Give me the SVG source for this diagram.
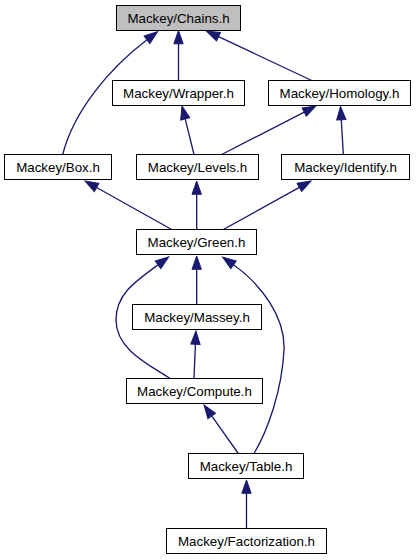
<svg xmlns="http://www.w3.org/2000/svg" width="417" height="560" viewBox="0 0 417 560">
<style>
.n rect{fill:#ffffff;stroke:#000000;stroke-width:1}
#chains rect{fill:#bfbfbf}
.n text{font-family:"Liberation Sans",Arial,Helvetica,sans-serif;font-size:13.33px;text-anchor:middle;fill:#000000}
.e path{fill:none;stroke:#191970;stroke-width:1.33;marker-end:url(#ah)}
</style>
<defs>
<marker id="ah" markerUnits="userSpaceOnUse" markerWidth="16" markerHeight="12" refX="0" refY="0" viewBox="0 -6 16 12" orient="auto" overflow="visible">
<path d="M0,-4.67 L13.3,0 L0,4.67 Z" fill="#191970" stroke="#191970" stroke-width="1"/>
</marker>
</defs>
<rect width="417" height="560" fill="#ffffff"/>
<g id="edges" class="e">
<path d="M62.7,154.5 C74,110 110,68 147,39.8"/>
<path d="M178.5,80.5 L178.5,43.8"/>
<path d="M311.7,80.5 L218.5,36.7"/>
<path d="M194,154.5 L185.2,118.9"/>
<path d="M221.7,154.5 L304.2,112.1"/>
<path d="M343.3,154.5 L341.3,119.8"/>
<path d="M171.7,229.5 L96.6,187.5"/>
<path d="M196.7,229.5 L196.7,194.3"/>
<path d="M223.3,229.5 L299.4,187.4"/>
<path d="M196.7,304.5 L196.7,269.3"/>
<path d="M170,378.5 C150,365 116,350 116,320 C116,295 133,283 158,264.8"/>
<path d="M194,378.5 L195.4,344.3"/>
<path d="M254,453.5 C268,430 282,390 284,350 C285.5,318 262,285 233.5,264.8"/>
<path d="M238.3,453.5 L211.7,415.9"/>
<path d="M246.5,528.5 L246.5,493.3"/>
</g>
<g id="chains" class="n"><rect x="116.5" y="5.5" width="124" height="25"/><text x="178.5" y="22.7">Mackey/Chains.h</text></g>
<g id="wrapper" class="n"><rect x="112.5" y="80.5" width="132" height="25"/><text x="178.5" y="97.7">Mackey/Wrapper.h</text></g>
<g id="homology" class="n"><rect x="268.5" y="80.5" width="142" height="25"/><text x="339.5" y="97.7">Mackey/Homology.h</text></g>
<g id="box" class="n"><rect x="4.5" y="154.5" width="107" height="25"/><text x="58" y="171.7">Mackey/Box.h</text></g>
<g id="levels" class="n"><rect x="136.5" y="154.5" width="122" height="25"/><text x="197.5" y="171.7">Mackey/Levels.h</text></g>
<g id="identify" class="n"><rect x="281.5" y="154.5" width="128" height="25"/><text x="345.5" y="171.7">Mackey/Identify.h</text></g>
<g id="green" class="n"><rect x="136.5" y="229.5" width="120" height="25"/><text x="196.5" y="246.7">Mackey/Green.h</text></g>
<g id="massey" class="n"><rect x="132.5" y="304.5" width="129" height="25"/><text x="197" y="321.7">Mackey/Massey.h</text></g>
<g id="compute" class="n"><rect x="126.5" y="378.5" width="136" height="25"/><text x="194.5" y="395.7">Mackey/Compute.h</text></g>
<g id="table" class="n"><rect x="188.5" y="453.5" width="115" height="25"/><text x="246" y="470.7">Mackey/Table.h</text></g>
<g id="factorization" class="n"><rect x="166.5" y="528.5" width="160" height="25"/><text x="246.5" y="545.7">Mackey/Factorization.h</text></g>
</svg>
